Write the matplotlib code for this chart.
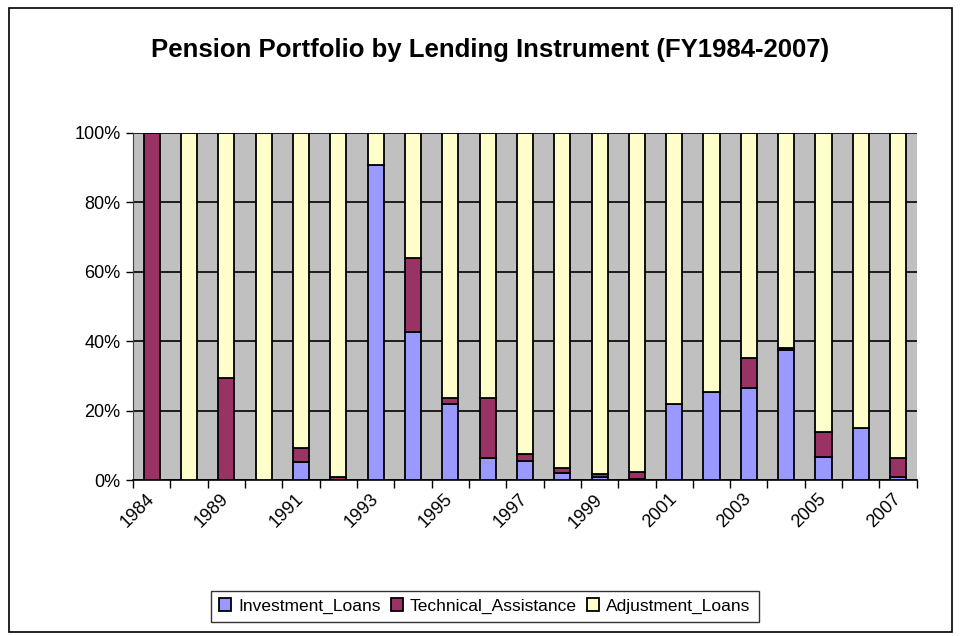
import numpy as np
import matplotlib
matplotlib.use('Agg')
import matplotlib.pyplot as plt
from matplotlib import font_manager
from matplotlib.patches import Rectangle

names = set(f.name for f in font_manager.fontManager.ttflist)
font = 'Liberation Sans Narrow' if 'Liberation Sans Narrow' in names else 'Liberation Sans'
plt.rcParams['font.family'] = [font, 'DejaVu Sans']

years = ['1984', '1988', '1989', '1990', '1991', '1992', '1993', '1994', '1995', '1996', '1997',
         '1998', '1999', '2000', '2001', '2002', '2003', '2004', '2005', '2006', '2007']
investment = [0, 0, 0, 0, 5.1, 0, 90.8, 42.7, 21.9, 6.3, 5.6,
              2.2, 1.0, 0.3, 21.9, 25.4, 26.5, 37.6, 6.8, 14.9, 1.0]
technical = [100, 0, 29.4, 0, 4.1, 1.0, 0, 21.4, 1.7, 17.3, 1.9,
             1.2, 0.7, 2.1, 0, 0, 8.7, 0.5, 7.0, 0, 5.3]
adjustment = [100 - a - b for a, b in zip(investment, technical)]

fig = plt.figure(figsize=(9.6, 6.36), dpi=100)
ax = fig.add_axes([0.1385, 0.245, 0.8165, 0.546])
ax.set_facecolor('#C0C0C0')

x = np.arange(len(years))
w = 0.43
kw = dict(width=w, edgecolor='black', linewidth=1.3, zorder=3)
ax.bar(x, investment, color='#9999FF', label='Investment_Loans', **kw)
ax.bar(x, technical, bottom=investment, color='#993366', label='Technical_Assistance', **kw)
ax.bar(x, adjustment, bottom=np.array(investment) + np.array(technical), color='#FFFFCC',
       label='Adjustment_Loans', **kw)

ax.set_xlim(-0.5, len(years) - 0.5)
ax.set_ylim(0, 100)
ax.set_yticks(np.arange(0, 101, 20))
ax.set_yticklabels(['%d%%' % v for v in range(0, 101, 20)], fontsize=13)
ax.yaxis.grid(True, color='black', linewidth=1.2, zorder=1)
ax.set_axisbelow(True)

ax.set_xticks(np.arange(-0.5, len(years), 1.0))
ax.set_xticklabels([])
ax.set_xticks(x[::2], minor=True)
ax.set_xticklabels(years[::2], minor=True, rotation=45, ha='right', va='center',
                   rotation_mode='anchor', fontsize=13)
ax.tick_params(axis='x', which='minor', length=0, pad=12)
ax.tick_params(axis='x', which='major', length=6, width=1, direction='out')
ax.tick_params(axis='y', length=5, width=1, direction='out', pad=4)

for s in ['top', 'right']:
    ax.spines[s].set_visible(False)
ax.spines['left'].set_color('#404040')
ax.spines['bottom'].set_color('black')
ax.spines['bottom'].set_linewidth(1.2)

fig.text(0.51, 0.922, 'Pension Portfolio by Lending Instrument (FY1984-2007)',
         ha='center', va='center', fontsize=18.5, fontweight='bold')

leg = fig.legend(loc='center', bbox_to_anchor=(0.505, 0.047), ncol=3, fontsize=12.5,
                 frameon=True, fancybox=False, edgecolor='black', handlelength=0.7,
                 handleheight=0.7, handletextpad=0.4, columnspacing=0.6, borderpad=0.45)
leg.get_frame().set_linewidth(1.0)

fig.patches.append(Rectangle((0.009, 0.006), 0.983, 0.981, transform=fig.transFigure,
                             fill=False, edgecolor='black', linewidth=1.2))

fig.savefig('out.png', dpi=100)
